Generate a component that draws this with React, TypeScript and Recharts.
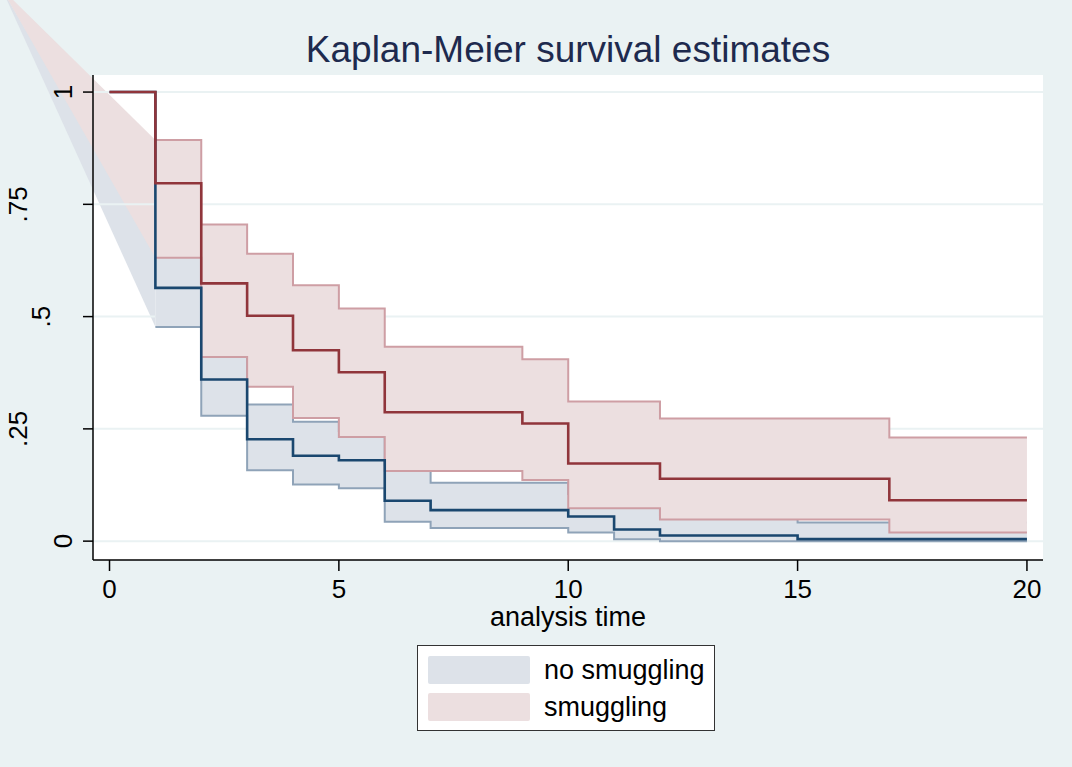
import React from 'react';
import {
  ComposedChart,
  Area,
  Line,
  XAxis,
  YAxis,
  ReferenceArea,
  ReferenceLine,
  Legend,
  Label,
} from 'recharts';

// ---------------- data ----------------
// smuggling group
const smugTimes = [0, 1, 2, 3, 4, 5, 6, 9, 10, 12, 17, 20];
const smugSurv = [1, 0.797, 0.574, 0.502, 0.425, 0.376, 0.287, 0.262, 0.173, 0.139, 0.091, 0.091];
const smugCITimes = [1, 2, 3, 4, 5, 6, 9, 10, 12, 17, 20];
const smugUpper = [0.893, 0.705, 0.64, 0.57, 0.518, 0.433, 0.405, 0.311, 0.273, 0.231, 0.231];
const smugLower = [0.631, 0.41, 0.344, 0.274, 0.232, 0.156, 0.136, 0.073, 0.048, 0.019, 0.019];

// no smuggling group
const noTimes = [0, 1, 2, 3, 4, 5, 6, 7, 10, 11, 12, 15, 20];
const noSurv = [1, 0.564, 0.36, 0.227, 0.19, 0.18, 0.09, 0.069, 0.055, 0.026, 0.0125, 0.0045, 0.0045];
const noCITimes = [1, 2, 3, 4, 5, 6, 7, 10, 11, 12, 15, 20];
const noUpper = [0.645, 0.44, 0.304, 0.266, 0.245, 0.17, 0.13, 0.105, 0.075, 0.058, 0.0416, 0.0416];
const noLower = [0.477, 0.279, 0.158, 0.126, 0.118, 0.043, 0.029, 0.019, 0.004, 0, 0, 0];

// point where the confidence bands start (off the plot region, as in the original)
const ciStartTime = -2.35;
const ciStartValue = 1.23;

const xTicks = [0, 5, 10, 15, 20];
const yTicks = [0, 0.25, 0.5, 0.75, 1];
const yTickLabels = ['0', '.25', '.5', '.75', '1'];

const titleText = 'Kaplan-Meier survival estimates';
const xAxisTitle = 'analysis time';
const legendLabels = ['no smuggling', 'smuggling'];

// ---------------- layout / style ----------------
const W = 1072;
const H = 767;
const PLOT = { left: 93, top: 75, right: 1043, bottom: 560 };
const X_DOMAIN: [number, number] = [-0.36, 20.35];
const Y_DOMAIN: [number, number] = [-0.042, 1.038];

const xPerPx = (X_DOMAIN[1] - X_DOMAIN[0]) / (PLOT.right - PLOT.left);
const yPerPx = (Y_DOMAIN[1] - Y_DOMAIN[0]) / (PLOT.bottom - PLOT.top);
const FULL_X: [number, number] = [X_DOMAIN[0] - PLOT.left * xPerPx, X_DOMAIN[1] + (W - PLOT.right) * xPerPx];
const FULL_Y: [number, number] = [Y_DOMAIN[0] - (H - PLOT.bottom) * yPerPx, Y_DOMAIN[1] + PLOT.top * yPerPx];

const FONT = '"Liberation Sans", Arial, Helvetica, sans-serif';
const BG = '#EAF2F3';
const GRID = '#EAF2F3';
const NO_FILL = '#DDE2E9';
const NO_EDGE = '#8FA3B8';
const SMUG_FILL = '#ECDFE0';
const SMUG_EDGE = '#CE9EA4';
const NAVY = '#1A476F';
const MAROON = '#90353B';
const legendColors = [NO_FILL, SMUG_FILL];

// ---------------- derived series ----------------
const smugLine = smugTimes.map((t, i) => ({ t, s: smugSurv[i] }));
const noLine = noTimes.map((t, i) => ({ t, s: noSurv[i] }));
const smugBand = smugCITimes.map((t, i) => ({ t, r: [smugLower[i], smugUpper[i]] }));
const noBand = noCITimes.map((t, i) => ({ t, r: [noLower[i], noUpper[i]] }));
const smugWedge = [
  { t: ciStartTime, r: [ciStartValue, ciStartValue] },
  { t: smugCITimes[0], r: [smugLower[0], smugUpper[0]] },
];
const noWedge = [
  { t: ciStartTime, r: [ciStartValue, ciStartValue] },
  { t: noCITimes[0], r: [noLower[0], noUpper[0]] },
];

const YTick = (props: any) => {
  const { x, y, payload } = props;
  const idx = yTicks.indexOf(payload.value);
  const label = idx >= 0 ? yTickLabels[idx] : String(payload.value);
  const cx = x - 19.5 - 22.5 * (label.length - 1);
  return (
    <text
      x={cx}
      y={y}
      transform={`rotate(-90 ${cx} ${y})`}
      textAnchor="middle"
      dominantBaseline="central"
      fontSize={26}
      fontFamily={FONT}
      fill="#000"
    >
      {label}
    </text>
  );
};

const renderLegend = () => (
  <div
    style={{
      width: 298,
      height: 86,
      boxSizing: 'border-box',
      border: '1.5px solid #333',
      background: '#fff',
      position: 'relative',
      fontFamily: FONT,
    }}
  >
    {legendLabels.map((lab, i) => (
      <div key={lab}>
        <div
          style={{
            position: 'absolute',
            left: 10,
            top: 10 + i * 37,
            width: 102,
            height: 28,
            background: legendColors[i],
            borderRadius: 2,
          }}
        />
        <div
          style={{
            position: 'absolute',
            left: 126,
            top: 8 + i * 37,
            height: 32,
            lineHeight: '32px',
            fontSize: 27,
            color: '#000',
            whiteSpace: 'nowrap',
          }}
        >
          {lab}
        </div>
      </div>
    ))}
  </div>
);

export default function App() {
  return (
    <div style={{ position: 'absolute', left: 0, top: 0, width: W, height: H, background: BG, overflow: 'hidden' }}>
      {/* plot region, grid and the band start wedges */}
      <div style={{ position: 'absolute', left: 0, top: 0 }}>
        <ComposedChart width={W} height={H} margin={{ top: 0, right: 0, bottom: 0, left: 0 }}>
          <XAxis type="number" dataKey="t" domain={FULL_X} allowDataOverflow hide />
          <YAxis type="number" domain={FULL_Y} allowDataOverflow hide />
          <ReferenceArea
            x1={X_DOMAIN[0]}
            x2={X_DOMAIN[1]}
            y1={Y_DOMAIN[0]}
            y2={Y_DOMAIN[1]}
            fill="#FFFFFF"
            fillOpacity={1}
            stroke="none"
            isFront={false}
          />
          {yTicks.map((v) => (
            <ReferenceLine
              key={v}
              segment={[
                { x: X_DOMAIN[0], y: v },
                { x: X_DOMAIN[1], y: v },
              ]}
              stroke={GRID}
              strokeWidth={2}
            />
          ))}
          <Area
            data={noWedge}
            dataKey="r"
            type="linear"
            fill={NO_FILL}
            fillOpacity={1}
            stroke="none"
            isAnimationActive={false}
          />
          <Area
            data={smugWedge}
            dataKey="r"
            type="linear"
            fill={SMUG_FILL}
            fillOpacity={1}
            stroke="none"
            isAnimationActive={false}
          />
        </ComposedChart>
      </div>

      {/* title */}
      <div
        style={{
          position: 'absolute',
          left: PLOT.left,
          width: PLOT.right - PLOT.left,
          top: 31,
          lineHeight: '37px',
          fontSize: 37,
          textAlign: 'center',
          fontFamily: FONT,
          color: '#1E2A4E',
          whiteSpace: 'nowrap',
        }}
      >
        {titleText}
      </div>

      {/* main chart */}
      <div style={{ position: 'absolute', left: 0, top: 0 }}>
        <ComposedChart
          width={W}
          height={H}
          margin={{ top: PLOT.top, right: W - PLOT.right, bottom: 0, left: 0 }}
        >
          <XAxis
            type="number"
            dataKey="t"
            domain={X_DOMAIN}
            ticks={xTicks}
            interval={0}
            allowDataOverflow
            height={H - PLOT.bottom}
            tickSize={11}
            tickMargin={9}
            tick={{ fontSize: 26, fill: '#000', fontFamily: FONT }}
            axisLine={{ stroke: '#000', strokeWidth: 1.5 }}
            tickLine={{ stroke: '#000', strokeWidth: 1.5 }}
          >
            <Label
              value={xAxisTitle}
              position="insideTop"
              offset={47}
              style={{ fontSize: 27, fill: '#000', fontFamily: FONT }}
            />
          </XAxis>
          <YAxis
            type="number"
            domain={Y_DOMAIN}
            ticks={yTicks}
            interval={0}
            allowDataOverflow
            width={PLOT.left}
            tickSize={10}
            tickMargin={0}
            tick={<YTick />}
            axisLine={{ stroke: '#000', strokeWidth: 1.5 }}
            tickLine={{ stroke: '#000', strokeWidth: 1.5 }}
          />
          <Area
            data={noBand}
            dataKey="r"
            type="stepAfter"
            fill={NO_FILL}
            fillOpacity={1}
            stroke={NO_EDGE}
            strokeWidth={2}
            isAnimationActive={false}
            legendType="none"
          />
          <Area
            data={smugBand}
            dataKey="r"
            type="stepAfter"
            fill={SMUG_FILL}
            fillOpacity={1}
            stroke={SMUG_EDGE}
            strokeWidth={2}
            isAnimationActive={false}
            legendType="none"
          />
          <Line
            data={noLine}
            dataKey="s"
            type="stepAfter"
            stroke={NAVY}
            strokeWidth={2.6}
            dot={false}
            isAnimationActive={false}
            legendType="none"
          />
          <Line
            data={smugLine}
            dataKey="s"
            type="stepAfter"
            stroke={MAROON}
            strokeWidth={2.6}
            dot={false}
            isAnimationActive={false}
            legendType="none"
          />
          <Legend
            layout="horizontal"
            verticalAlign="middle"
            align="center"
            wrapperStyle={{ left: 417, top: 645, width: 298, height: 86 }}
            content={renderLegend}
          />
        </ComposedChart>
      </div>
    </div>
  );
}
